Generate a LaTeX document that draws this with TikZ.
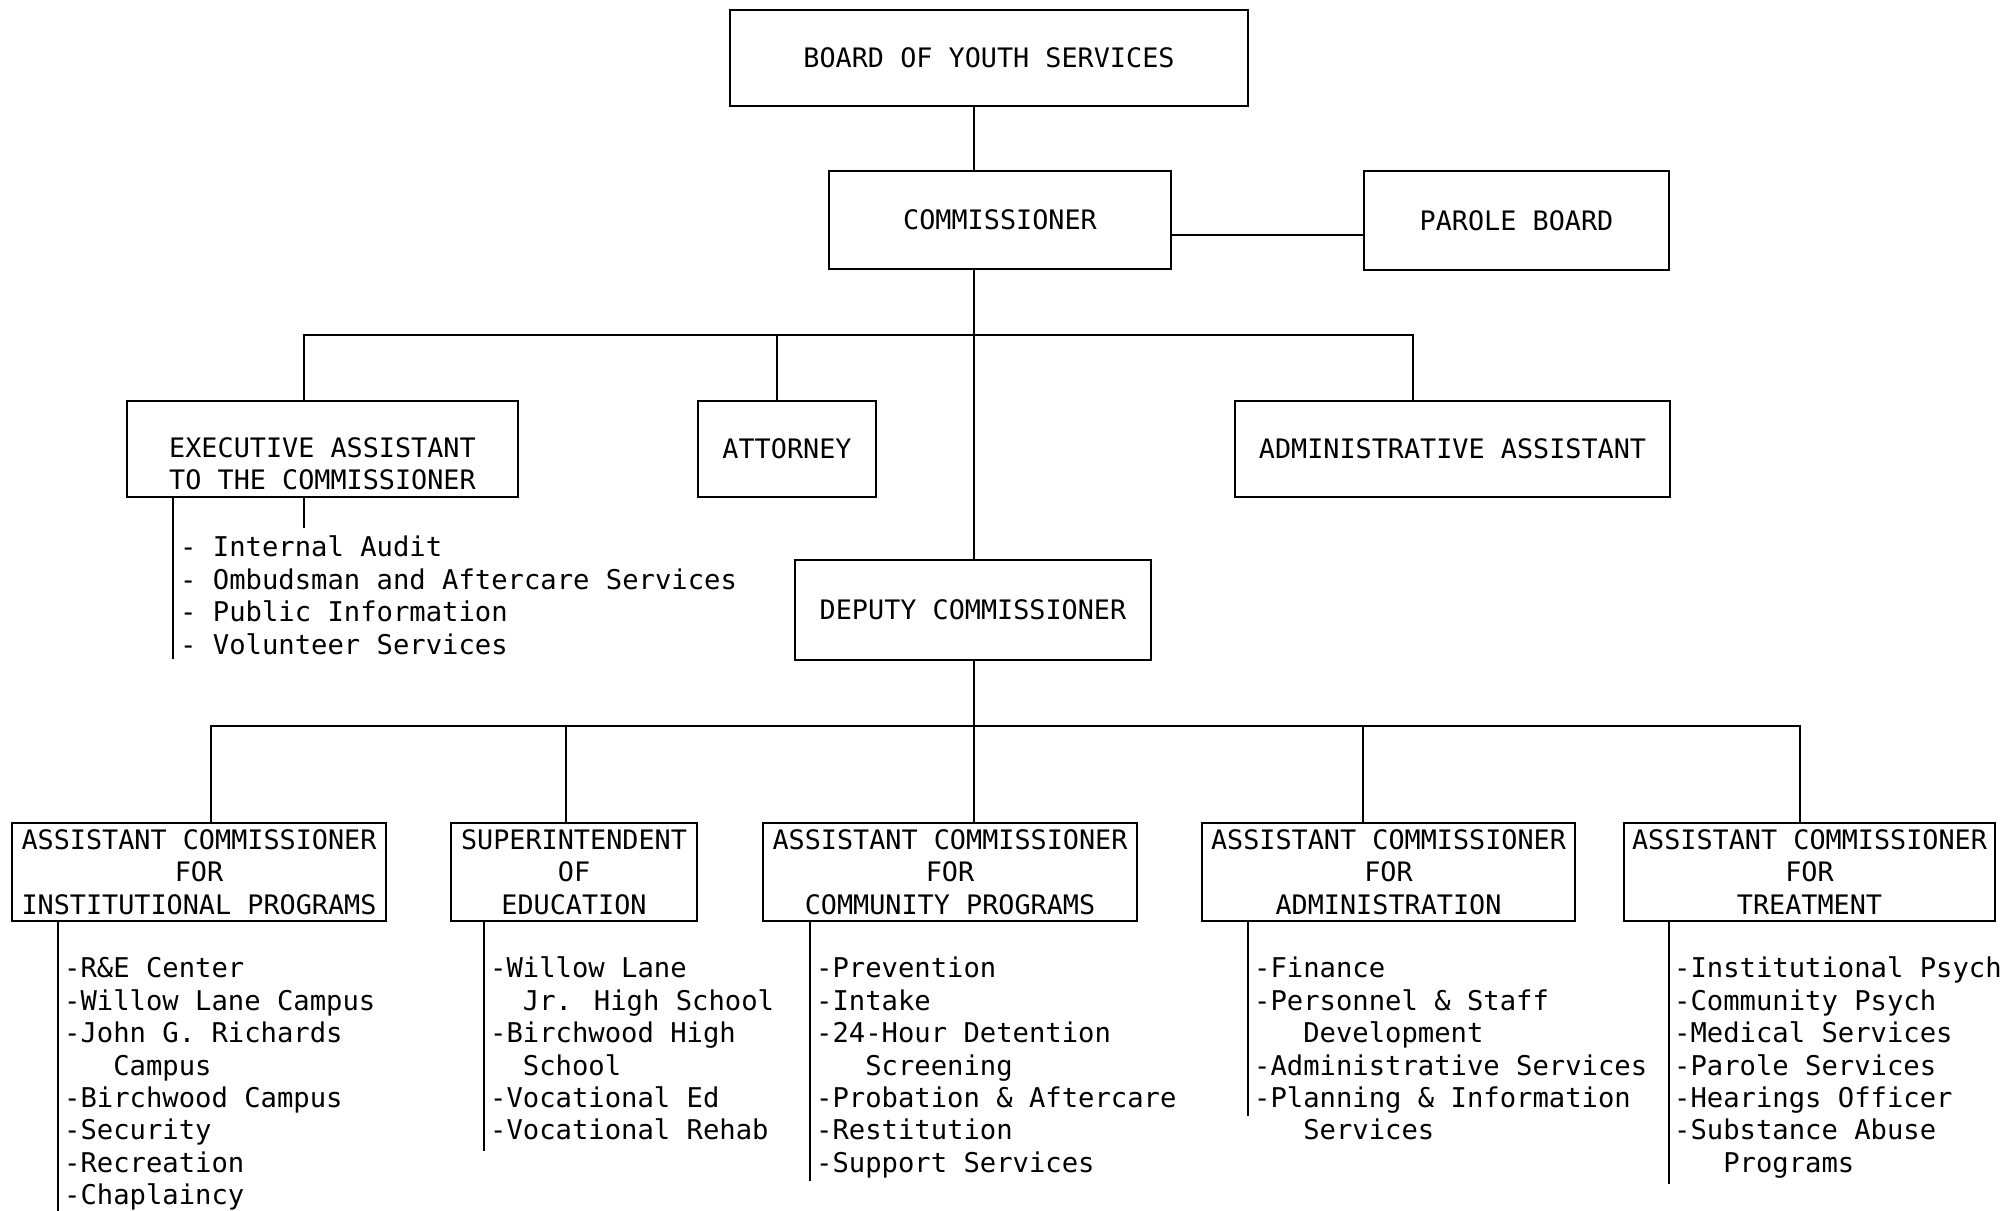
\documentclass[tikz,border=0pt]{standalone}
\usepackage{fontspec}
\usetikzlibrary{calc}
\newfontfamily\typefont{DejaVu Sans Mono}
\newcommand\chartfont{\typefont\fontsize{26.8pt}{32.4pt}\selectfont}
\newcommand\listfont{\typefont\fontsize{27.2pt}{32.4pt}\selectfont}
\tikzset{
  orgbox/.style={draw, line width=2pt, inner sep=0pt, align=center, font=\chartfont},
  boxtext/.style={inner sep=0pt, align=center, font=\chartfont},
  duties/.style={anchor=north west, inner sep=0pt, align=left, font=\listfont},
  link/.style={line width=2pt},
}
\begin{document}
\begin{tikzpicture}[x=1pt,y=1pt,yscale=-1,xscale=1]
        \useasboundingbox (0,0) rectangle (2005,1210);

        %Top level
        \node[orgbox, minimum width=518, minimum height=96] (board) at (989,58) {BOARD OF YOUTH SERVICES};
        \node[orgbox, minimum width=342, minimum height=98] (comm) at (1000,220) {COMMISSIONER};
        \node[orgbox, minimum width=305, minimum height=99] (parole) at (1516.5,220.5) {PAROLE BOARD};

        %Staff row
        \node[orgbox, minimum width=391, minimum height=96] (execasst) at (322.5,449) {};
        \node[boxtext] (execname) at (322.5,464) {EXECUTIVE ASSISTANT\\TO THE COMMISSIONER};
        \node[orgbox, minimum width=178, minimum height=96] (attorney) at (787,449) {ATTORNEY};
        \node[orgbox, minimum width=435, minimum height=96] (adminasst) at (1452.5,449) {ADMINISTRATIVE ASSISTANT};
        \node[orgbox, minimum width=356, minimum height=100] (deputy) at (973,610) {DEPUTY COMMISSIONER};

        %Division heads
        \node[orgbox, minimum width=374, minimum height=98] (acinst) at (199,872) {ASSISTANT COMMISSIONER\\FOR\\INSTITUTIONAL PROGRAMS};
        \node[orgbox, minimum width=246, minimum height=98] (supted) at (574,872) {SUPERINTENDENT\\OF\\EDUCATION};
        \node[orgbox, minimum width=374, minimum height=98] (accomm) at (950,872) {ASSISTANT COMMISSIONER\\FOR\\COMMUNITY PROGRAMS};
        \node[orgbox, minimum width=373, minimum height=98] (acadmin) at (1388.5,872) {ASSISTANT COMMISSIONER\\FOR\\ADMINISTRATION};
        \node[orgbox, minimum width=371, minimum height=98] (actreat) at (1809.5,872) {ASSISTANT COMMISSIONER\\FOR\\TREATMENT};

        %Duty lists
        \node[duties] (execlist) at (180,534) {\strut- Internal Audit\\- Ombudsman and Aftercare Services\\- Public Information\\- Volunteer Services};
        \node[duties] (instlist) at (64,955) {\strut-R\&E Center\\-Willow Lane Campus\\-John G. Richards\\\phantom{xxx}Campus\\-Birchwood Campus\\-Security\\-Recreation\\-Chaplaincy};
        \node[duties] (edlist) at (490,955) {\strut-Willow Lane\\\phantom{xx}Jr. High School\\-Birchwood High\\\phantom{xx}School\\-Vocational Ed\\-Vocational Rehab};
        \node[duties] (commlist) at (816,955) {\strut-Prevention\\-Intake\\-24-Hour Detention\\\phantom{xxx}Screening\\-Probation \& Aftercare\\-Restitution\\-Support Services};
        \node[duties] (adminlist) at (1254,955) {\strut-Finance\\-Personnel \& Staff\\\phantom{xxx}Development\\-Administrative Services\\-Planning \& Information\\\phantom{xxx}Services};
        \node[duties] (treatlist) at (1674,955) {\strut-Institutional Psych\\-Community Psych\\-Medical Services\\-Parole Services\\-Hearings Officer\\-Substance Abuse\\\phantom{xxx}Programs};

        %Buses
        \coordinate (bus1) at (974,335);
        \coordinate (bus2) at (974,726);
        \coordinate (parolelink) at ($(comm.east)+(0,15)$);

        %Connectors
        \draw[link] (board.south -| bus1) -- (comm.north -| bus1);
        \draw[link] (comm.south -| bus1) -- (deputy.north -| bus1);
        \draw[link] (parolelink) -- (parolelink -| parole.west);
        \draw[link] ($(execasst.north)+(-18.5,0)$) |- (bus1) -| ($(adminasst.north)+(-39.5,0)$);
        \draw[link] ($(attorney.north)+(-10,0)$) -- ++(0,-66);
        \draw[link] (deputy.south -| bus2) -- (accomm.north -| bus2);
        \draw[link] ($(acinst.north)+(12,0)$) |- (bus2) -| ($(actreat.north)+(-9.5,0)$);
        \draw[link] ($(supted.north)+(-8,0)$) -- ++(0,-97);
        \draw[link] ($(acadmin.north)+(-25.5,0)$) -- ++(0,-97);

        %List brackets
        \draw[link] ($(execasst.south)+(-18.5,0)$) -- ++(0,30);
        \draw[link] ($(execasst.south west)+(47,0)$) -- ++(0,161);
        \draw[link] ($(acinst.south west)+(47,0)$) -- ++(0,289);
        \draw[link] ($(supted.south west)+(34,0)$) -- ++(0,229);
        \draw[link] ($(accomm.south west)+(48,0)$) -- ++(0,259);
        \draw[link] ($(acadmin.south west)+(47,0)$) -- ++(0,194);
        \draw[link] ($(actreat.south west)+(46,0)$) -- ++(0,262);
\end{tikzpicture}
\end{document}
